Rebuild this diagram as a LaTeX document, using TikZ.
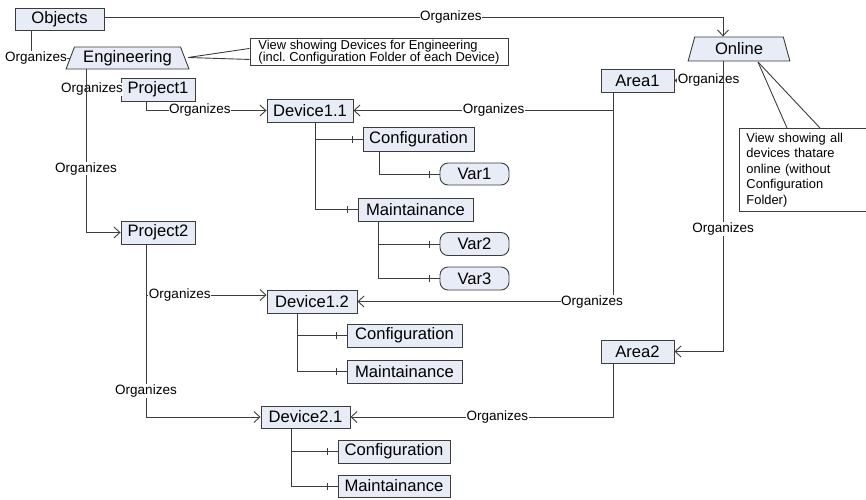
\documentclass[tikz,border=0pt]{standalone}
\usepackage{fontspec}
\setmainfont{Liberation Sans}
\usetikzlibrary{arrows.meta,shapes.geometric}
\definecolor{boxfill}{RGB}{231,236,247}
\definecolor{linec}{RGB}{60,60,60}
\begin{document}
\begin{tikzpicture}[x=1pt,y=-1pt,
  box/.style={draw=linec, fill=boxfill, line width=0.9pt, inner sep=0pt, minimum height=23pt, font=\fontsize{16.6}{18}\selectfont},
  rbox/.style={box, rounded corners=8pt},
  trap/.style={box, trapezium, trapezium stretches=true},
  conn/.style={draw=linec, line width=0.9pt},
  arr/.style={conn, -{Straight Barb[length=6pt,width=11pt]}},
  lbl/.style={fill=white, inner sep=0.5pt, font=\fontsize{13.5}{15}\selectfont},
  note/.style={draw=linec, line width=0.9pt, fill=white, inner ysep=0pt, align=left},
]
\useasboundingbox (0,0) rectangle (866,499);

% nodes
\node[box, minimum width=89pt, minimum height=22pt] (obj) at (59.5,19) {Objects};
\node[trap, minimum width=123pt, minimum height=22pt, trapezium left angle=65.6, trapezium right angle=65.6] (eng) at (127.5,58) {Engineering};
\node[box, minimum width=74pt] (p1) at (158,89.5) {Project1};
\node[box, minimum width=86pt] (d11) at (310,110.5) {Device1.1};
\node[box, minimum width=111pt, minimum height=24pt] (c11) at (418.5,139) {Configuration};
\node[rbox, minimum width=69pt, minimum height=22pt] (v1) at (474.5,174) {Var1};
\node[box, minimum width=115pt] (m11) at (415.5,209.5) {Maintainance};
\node[rbox, minimum width=69pt] (v2) at (474.5,244) {Var2};
\node[rbox, minimum width=69pt] (v3) at (474.5,278.5) {Var3};
\node[box, minimum width=74pt] (p2) at (158,232.5) {Project2};
\node[box, minimum width=90pt] (d12) at (312,301.5) {Device1.2};
\node[box, minimum width=115pt] (c12) at (404.5,335.5) {Configuration};
\node[box, minimum width=115pt] (m12) at (404.5,371.5) {Maintainance};
\node[box, minimum width=89pt, minimum height=22pt] (d21) at (305.5,417) {Device2.1};
\node[box, minimum width=112pt] (c21) at (394,451.5) {Configuration};
\node[box, minimum width=112pt, minimum height=22pt] (m21) at (394,486) {Maintainance};
\node[box, minimum width=73pt] (a1) at (637.5,80.5) {Area1};
\node[box, minimum width=73pt] (a2) at (637.5,351.5) {Area2};
\node[trap, minimum width=102pt, minimum height=24pt, trapezium left angle=73.7, trapezium right angle=73.7] (onl) at (739,49) {Online};

% callouts
\coordinate (t1) at (188,57.5);
\node[note, anchor=north west, inner xsep=4pt, minimum width=258pt, minimum height=27pt, font=\fontsize{12.9}{12.5}\selectfont] (n1) at (249.5,38)
  {View showing Devices for Engineering\\(incl.\ Configuration Folder of each Device)};
\draw[conn] (t1) -- ([yshift=3.5pt]n1.west);
\draw[conn] (t1) -- ([yshift=-7.5pt]n1.west);

\coordinate (t2) at (758,62);
\node[note, anchor=north west, inner xsep=7pt, text width=120pt, minimum height=83pt, font=\fontsize{12.9}{15.5}\selectfont] (n2) at (739,128)
  {View showing all\\devices thatare\\online (without\\Configuration\\Folder)};
\draw[conn] (t2) -- ([xshift=48pt]n2.north west);
\draw[conn] (t2) -- ([xshift=81pt]n2.north west);

% Organizes connectors
\draw[arr] ([yshift=2pt]obj.east) -| node[lbl, pos=0.28]{Organizes} ([xshift=-16pt]onl.north);
\draw[conn] ([xshift=-28.5pt]obj.south) |- node[lbl, pos=0.5, xshift=5pt]{Organizes} (eng.west);
\draw[conn] ([xshift=-41.5pt]eng.south) |- node[lbl, pos=0.5, xshift=6pt]{Organizes} (p1.west);
\draw[arr] ([xshift=-41.5pt]eng.south) |- node[lbl, pos=0.304]{Organizes} (p2.west);
\draw[arr] ([xshift=-12pt]p1.south) |- node[lbl, pos=0.723]{Organizes} (d11.west);
\draw[arr] ([xshift=-24.5pt]a1.south) |- node[lbl, pos=0.73]{Organizes} (d11.east);
\draw[arr] ([xshift=-24.5pt]a1.south) |- node[lbl, pos=0.5, xshift=-21pt]{Organizes} (d12.east);
\draw[arr] ([xshift=-16pt]onl.south) |- node[lbl, pos=0.5, xshift=-14.5pt]{Organizes} (a1.east);
\draw[arr] ([xshift=-16pt]onl.south) |- node[lbl, pos=0.289]{Organizes} (a2.east);
\draw[arr] ([xshift=-12pt]p2.south) |- node[lbl, pos=0.64]{Organizes} ([yshift=6.5pt]d12.west);
\draw[arr] ([xshift=-12pt]p2.south) |- node[lbl, pos=0.425]{Organizes} (d21.west);
\draw[arr] ([xshift=-24.5pt]a2.south) |- node[lbl, pos=0.72]{Organizes} (d21.east);

% component connectors
\draw[conn] ([xshift=5pt]d11.south) |- (c11.west);
\draw[conn] ([xshift=5pt]d11.south) |- (m11.west);
\draw[conn] ([xshift=-39.5pt]c11.south) |- (v1.west);
\draw[conn] ([xshift=-37.5pt]m11.south) |- (v2.west);
\draw[conn] ([xshift=-37.5pt]m11.south) |- (v3.west);
\draw[conn] ([xshift=-15pt]d12.south) |- (c12.west);
\draw[conn] ([xshift=-15pt]d12.south) |- (m12.west);
\draw[conn] ([xshift=-14.5pt]d21.south) |- (c21.west);
\draw[conn] ([xshift=-14.5pt]d21.south) |- (m21.west);
\foreach \n in {c11,m11,v1,v2,v3,c12,m12,c21,m21}
  \draw[conn] ([xshift=-10pt,yshift=-3.5pt]\n.west) -- ([xshift=-10pt,yshift=3.5pt]\n.west);
\end{tikzpicture}
\end{document}
